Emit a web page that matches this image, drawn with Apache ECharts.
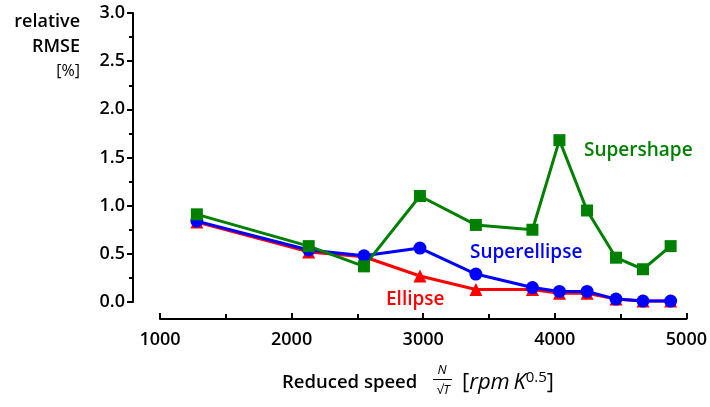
<!DOCTYPE html>
<html>
<head>
<meta charset="utf-8">
<script src="https://cdn.jsdelivr.net/npm/echarts@6/dist/echarts.min.js"></script>
<style>
  html, body { margin: 0; padding: 0; background: #fff; }
  #chart { width: 710px; height: 407px; }
</style>
</head>
<body>
<div id="chart"></div>
<script>
// Reduced speed N/sqrt(T) in rpm K^0.5
const speeds = [1280, 2130, 2550, 2975, 3400, 3830, 4035, 4245, 4465, 4670, 4880];
// relative RMSE [%] for each shape model
const ellipse      = [0.83, 0.52, 0.47, 0.27, 0.13, 0.13, 0.09, 0.09, 0.03, 0.01, 0.01];
const superellipse = [0.84, 0.54, 0.48, 0.56, 0.29, 0.15, 0.11, 0.11, 0.03, 0.01, 0.01];
const supershape   = [0.91, 0.58, 0.37, 1.10, 0.80, 0.75, 1.68, 0.95, 0.46, 0.34, 0.58];
const yTicks = [0.0, 0.5, 1.0, 1.5, 2.0, 2.5, 3.0];
const xTicks = [1000, 2000, 3000, 4000, 5000];

const FONT = '"Open Sans", Roboto, sans-serif';
const pairs = v => speeds.map((s, i) => [s, v[i]]);

const chart = echarts.init(document.getElementById('chart'), null, { renderer: 'canvas' });

function lineSeries(name, values, color, symbol, size) {
  return {
    name, type: 'line', data: pairs(values),
    symbol, symbolSize: size,
    lineStyle: { color, width: 3 },
    itemStyle: { color },
    animation: false, z: 2
  };
}

function label(text, x, y, color, font, align) {
  return {
    type: 'text', x, y,
    style: { text, fill: color, font, textAlign: align || 'left', textVerticalAlign: 'middle' }
  };
}

chart.setOption({
  animation: false,
  grid: { left: 160, right: 21, top: 13, bottom: 105 },
  xAxis: {
    type: 'value', min: xTicks[0], max: xTicks[xTicks.length - 1], interval: 1000,
    offset: 17,
    axisLine: { show: true, onZero: false, lineStyle: { color: '#000', width: 2 } },
    axisTick: { show: true, inside: true, length: 6, lineStyle: { color: '#000', width: 2 } },
    minorTick: { show: true, splitNumber: 2, length: 5, lineStyle: { color: '#000', width: 2 } },
    splitLine: { show: false },
    axisLabel: {
      color: '#000', fontFamily: FONT, fontSize: 18, fontWeight: 600, margin: 12,
      formatter: v => String(v)
    }
  },
  yAxis: {
    type: 'value', min: yTicks[0], max: yTicks[yTicks.length - 1], interval: 0.5,
    offset: 27,
    axisLine: { show: true, onZero: false, lineStyle: { color: '#000', width: 2 } },
    axisTick: { show: true, length: 6, lineStyle: { color: '#000', width: 2 } },
    minorTick: { show: true, splitNumber: 2, length: 4, lineStyle: { color: '#000', width: 2 } },
    splitLine: { show: false },
    axisLabel: {
      color: '#000', fontFamily: FONT, fontSize: 18, fontWeight: 600, margin: 8,
      formatter: v => v.toFixed(1)
    }
  },
  series: [
    lineSeries('Ellipse', ellipse, '#ff0000', 'triangle', 13),
    lineSeries('Superellipse', superellipse, '#0000ff', 'circle', 13),
    lineSeries('Supershape', supershape, '#008000', 'rect', 12)
  ],
  graphic: [
    // y-axis title
    label('relative', 80, 22, '#000', '600 18px ' + FONT, 'right'),
    label('RMSE', 80, 47, '#000', '600 18px ' + FONT, 'right'),
    label('[%]', 80, 71, '#000', '400 16px ' + FONT, 'right'),
    // series names placed next to their lines
    label('Supershape', 584, 151, '#008000', '600 19px ' + FONT),
    label('Superellipse', 470, 253, '#0000ff', '600 19px ' + FONT),
    label('Ellipse', 386, 300, '#ff0000', '600 19px ' + FONT),
    // x-axis title with fraction N / sqrt(T)
    label('Reduced speed', 282, 383, '#000', '600 18.5px ' + FONT),
    label('N', 442, 370, '#000', 'italic 13px ' + FONT, 'center'),
    { type: 'line', shape: { x1: 433, y1: 379.5, x2: 452, y2: 379.5 }, style: { stroke: '#000', lineWidth: 1 } },
    label('√T', 443, 390, '#000', 'italic 13px ' + FONT, 'center'),
    {
      type: 'text', x: 462, y: 383,
      style: {
        text: '{n|[}{i|rpm\u2009K}{s|0.5}{n|]}',
        textVerticalAlign: 'middle',
        rich: {
          n: { fill: '#000', font: '400 22px ' + FONT },
          i: { fill: '#000', font: 'italic 22px ' + FONT },
          s: { fill: '#000', font: '400 15px ' + FONT, verticalAlign: 'top', padding: [0, 0, 10, 0] }
        }
      }
    }
  ]
});
</script>
</body>
</html>
